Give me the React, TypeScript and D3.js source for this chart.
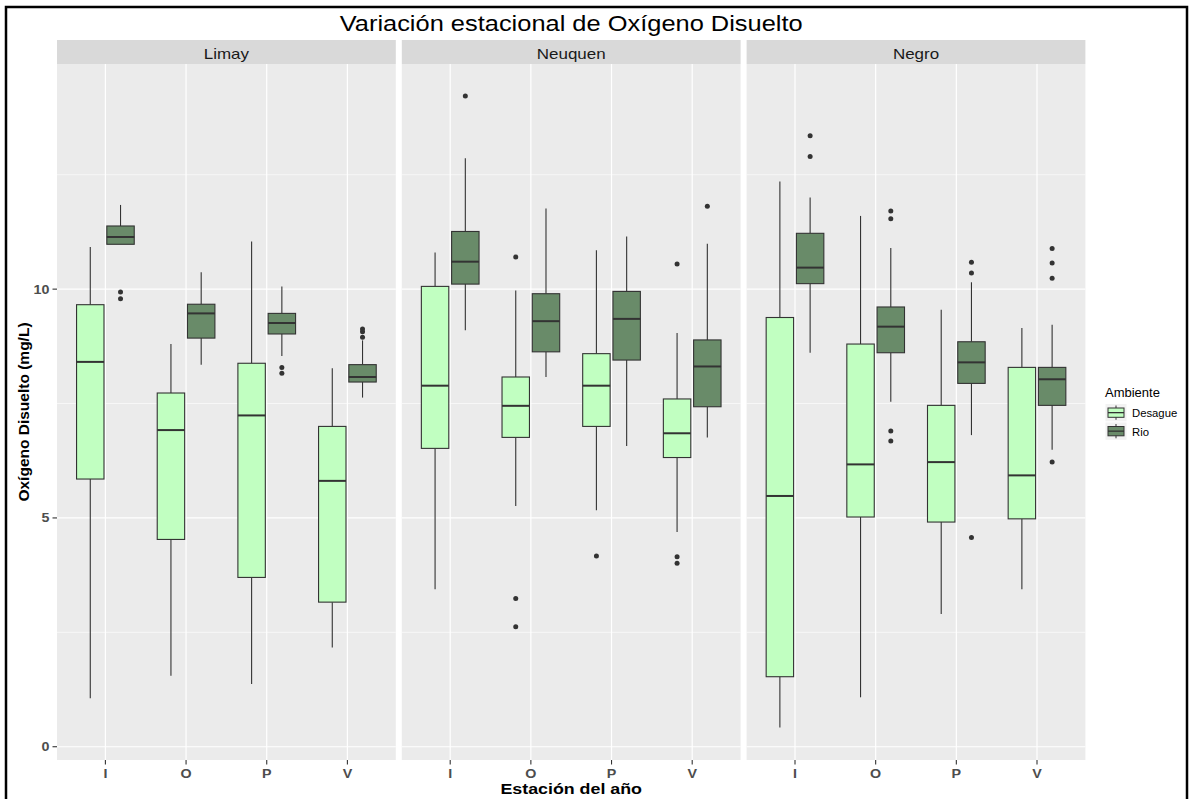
import React from 'react';
import * as d3 from 'd3';

const seasons = ['I', 'O', 'P', 'V'];
const rivers = ['Limay', 'Neuquen', 'Negro'];
const ambientes = ['Desague', 'Rio'];
const yTicks = [0, 5, 10];

// [whisker low, q1, median, q3, whisker high] for each season
const limayDesague = [[1.06, 5.85, 8.41, 9.66, 10.92], [1.55, 4.53, 6.92, 7.73, 8.8], [1.37, 3.7, 7.24, 8.38, 11.04], [2.17, 3.16, 5.81, 7.0, 8.27]];
const limayRio = [[10.98, 10.98, 11.14, 11.38, 11.84], [8.35, 8.93, 9.47, 9.67, 10.37], [8.54, 9.02, 9.26, 9.47, 10.06], [7.63, 7.97, 8.08, 8.35, 8.88]];
const neuquenDesague = [[3.44, 6.52, 7.89, 10.06, 10.8], [5.26, 6.76, 7.45, 8.08, 9.97], [5.17, 7.0, 7.89, 8.59, 10.85], [4.69, 6.32, 6.85, 7.6, 9.04]];
const neuquenRio = [[9.1, 10.11, 10.6, 11.26, 12.86], [8.08, 8.63, 9.3, 9.9, 11.76], [6.57, 8.45, 9.35, 9.95, 11.15], [6.76, 7.43, 8.31, 8.89, 10.99]];
const negroDesague = [[0.42, 1.53, 5.48, 9.38, 12.35], [1.08, 5.02, 6.17, 8.8, 11.6], [2.9, 4.91, 6.22, 7.46, 9.55], [3.44, 4.98, 5.93, 8.29, 9.15]];
const negroRio = [[8.61, 10.12, 10.47, 11.22, 12.0], [7.54, 8.61, 9.18, 9.61, 10.9], [6.81, 7.94, 8.4, 8.85, 10.15], [6.49, 7.46, 8.03, 8.29, 9.22]];

// outliers for each season
const limayDesagueOut = [[], [], [], []];
const limayRioOut = [[9.94, 9.79], [], [8.29, 8.16], [8.95, 9.07, 9.13]];
const neuquenDesagueOut = [[], [10.7, 3.24, 2.62], [4.17], [10.55, 4.15, 4.01]];
const neuquenRioOut = [[14.22], [], [], [11.81]];
const negroDesagueOut = [[], [], [], []];
const negroRioOut = [[13.35, 12.9], [11.71, 11.54, 6.9, 6.68], [10.59, 10.35, 4.57], [10.89, 10.57, 10.24, 6.22]];

const stats = [[limayDesague, limayRio], [neuquenDesague, neuquenRio], [negroDesague, negroRio]];
const outliers = [[limayDesagueOut, limayRioOut], [neuquenDesagueOut, neuquenRioOut], [negroDesagueOut, negroRioOut]];

const fills = ['#c1ffc1', '#698b69'];
const FONT = '"Liberation Sans", Arial, sans-serif';

// text that is a bit wider than the font, like the picture
const Wide = ({ x, y, sx, children, ...rest }: any) => (
  <text transform={`translate(${x},${y}) scale(${sx},1)`} fontFamily={FONT} {...rest}>
    {children}
  </text>
);

const App = () => {
  const width = 1192;
  const height = 799;
  const top = 64;
  const bottom = 760;
  const left = 57;
  const panelW = 338.8;
  const gap = 6;

  const y = d3.scaleLinear().domain([-0.29, 14.92]).range([bottom, top]);
  const minor = [2.5, 7.5, 12.5];
  const dodge = 0.1875;
  const halfW = 0.17;

  const panels = rivers.map((river, p) => {
    const x0 = left + p * (panelW + gap);
    const x = d3.scaleLinear().domain([-0.6, 3.6]).range([x0, x0 + panelW]);
    return (
      <g key={river}>
        <rect x={x0} y={top} width={panelW} height={bottom - top} fill="#ebebeb" />
        {minor.map((v) => (
          <line key={'mn' + v} x1={x0} x2={x0 + panelW} y1={y(v)} y2={y(v)} stroke="#fff" strokeWidth={0.6} />
        ))}
        {yTicks.map((v) => (
          <line key={'mj' + v} x1={x0} x2={x0 + panelW} y1={y(v)} y2={y(v)} stroke="#fff" strokeWidth={1.2} />
        ))}
        {seasons.map((s, i) => (
          <line key={'v' + s} x1={x(i)} x2={x(i)} y1={top} y2={bottom} stroke="#fff" strokeWidth={1.2} />
        ))}
        <rect x={x0} y={40} width={panelW} height={top - 40} fill="#d9d9d9" />
        <Wide x={x0 + panelW / 2} y={58.5} sx={1.17} textAnchor="middle" fontSize={14.5} fill="#1a1a1a">
          {river}
        </Wide>
        {ambientes.map((a, k) =>
          seasons.map((s, i) => {
            const [lo, q1, med, q3, hi] = stats[p][k][i];
            const cx = x(i + (k === 0 ? -dodge : dodge));
            const bx = x(i + (k === 0 ? -dodge : dodge) - halfW);
            const bw = x(i + halfW) - x(i - halfW);
            return (
              <g key={a + s}>
                <line x1={cx} x2={cx} y1={y(hi)} y2={y(q3)} stroke="#333" strokeWidth={1.1} />
                <line x1={cx} x2={cx} y1={y(q1)} y2={y(lo)} stroke="#333" strokeWidth={1.1} />
                <rect x={bx} y={y(q3)} width={bw} height={y(q1) - y(q3)} fill={fills[k]} stroke="#333" strokeWidth={1.1} />
                <line x1={bx} x2={bx + bw} y1={y(med)} y2={y(med)} stroke="#333" strokeWidth={2} />
                {outliers[p][k][i].map((o, j) => (
                  <circle key={j} cx={cx} cy={y(o)} r={2.5} fill="#333" />
                ))}
              </g>
            );
          })
        )}
        {seasons.map((s, i) => (
          <g key={'t' + s}>
            <line x1={x(i)} x2={x(i)} y1={bottom} y2={bottom + 4.5} stroke="#333" strokeWidth={1.1} />
            <Wide x={x(i)} y={778} sx={1.1} textAnchor="middle" fontSize={13} fontWeight="bold" fill="#4d4d4d">
              {s}
            </Wide>
          </g>
        ))}
      </g>
    );
  });

  const plotMid = left + (3 * panelW + 2 * gap) / 2;

  return (
    <svg width={width} height={height} style={{ position: 'absolute', left: 0, top: 0, background: '#fff' }}>
      <rect x={6} y={7} width={1181} height={810} fill="none" stroke="#000" strokeWidth={2.5} />
      <Wide x={plotMid} y={31} sx={1.13} textAnchor="middle" fontSize={22.5} fill="#000">
        Variación estacional de Oxígeno Disuelto
      </Wide>
      {panels}
      {yTicks.map((v) => (
        <g key={'yt' + v}>
          <line x1={52.5} x2={left} y1={y(v)} y2={y(v)} stroke="#333" strokeWidth={1.1} />
          <Wide x={49.5} y={y(v) + 4.5} sx={1.1} textAnchor="end" fontSize={13} fontWeight="bold" fill="#4d4d4d">
            {v}
          </Wide>
        </g>
      ))}
      <text
        transform={`translate(28.5,${(top + bottom) / 2}) rotate(-90)`}
        textAnchor="middle"
        fontSize={15.5}
        fontWeight="bold"
        fill="#000"
        fontFamily={FONT}
      >
        Oxígeno Disuelto (mg/L)
      </text>
      <Wide x={plotMid} y={794} sx={1.15} textAnchor="middle" fontSize={15.5} fontWeight="bold" fill="#000">
        Estación del año
      </Wide>
      <g>
        <text x={1105} y={397} fontSize={13} fill="#000" fontFamily={FONT}>
          Ambiente
        </text>
        {ambientes.map((a, k) => {
          const ky = 404 + k * 18.5;
          return (
            <g key={a}>
              <rect x={1105.5} y={ky} width={21} height={17.3} fill="#f2f2f2" />
              <line x1={1116} x2={1116} y1={ky + 1.5} y2={ky + 15.8} stroke="#333" strokeWidth={1} />
              <rect x={1108} y={ky + 4} width={16} height={9.3} fill={fills[k]} stroke="#333" strokeWidth={1} />
              <line x1={1108} x2={1124} y1={ky + 8.65} y2={ky + 8.65} stroke="#333" strokeWidth={1.3} />
              <text x={1132} y={ky + 13} fontSize={11.3} fill="#000" fontFamily={FONT}>
                {a}
              </text>
            </g>
          );
        })}
      </g>
    </svg>
  );
};

export default App;
